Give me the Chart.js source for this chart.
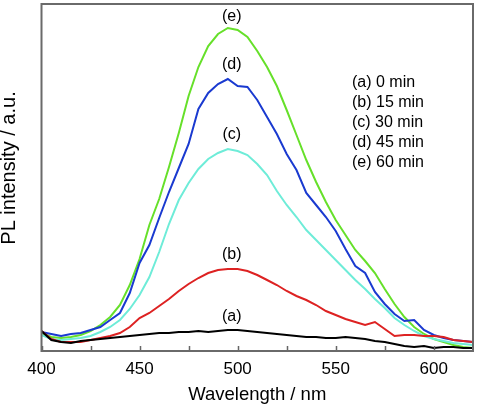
<!DOCTYPE html>
<html>
<head>
<meta charset="utf-8">
<script src="https://cdn.jsdelivr.net/npm/chart.js@4/dist/chart.umd.min.js"></script>
<style>
html,body{margin:0;padding:0;background:#fff;}
canvas{display:block;}
</style>
</head>
<body>
<canvas id="c" width="477" height="409"></canvas>
<script>
// ---- data ----
const wavelengths = [400,405,410,415,420,425,430,435,440,445,450,455,460,465,470,475,480,485,490,495,500,505,510,515,520,525,530,535,540,545,550,555,560,565,570,575,580,585,590,595,600,605,610,615,620];
const seriesA = [20,11,9,8,10, 11,12,13,14,15, 16,17,18,18,19, 19,20,19,20,21, 21,20,19,18,17, 16,15,14,14,13, 13,14,13,12,10, 9,7,5,4,5, 3,4,4,3,3];
const seriesB = [20,12,9,9,9, 11,13,15,18,24, 33,38,45,52,60, 67,73,78,81,82, 82,80,76,71,66, 60,55,51,46,40, 36,32,29,26,29, 22,15,16,16,15, 15,14,11,10,9];
const seriesC = [16,12,11,12,13, 15,19,24,31,42, 56,74,99,127,151, 168,182,192,198,202, 200,196,187,176,160, 146,134,121,111,101, 91,81,71,62,52, 43,33,26,20,15, 12,10,8,7,6];
const seriesD = [19,17,15,17,18, 21,24,31,38,58, 88,106,133,159,183, 207,242,258,267,272, 265,264,251,234,217, 197,181,158,146,134, 120,102,85,78,59, 47,37,30,31,21, 16,13,11,10,9];
const seriesE = [18,14,13,14,16, 20,26,34,46,66, 92,126,152,184,218, 255,284,305,317,323, 321,314,300,284,265, 241,216,191,169,149, 131,116,101,90,78, 62,47,34,24,17, 12,9,6,4,3];
const xTickValues = [400,450,500,550,600];
const xMinorTickValues = [400,425,450,475,500,525,550,575,600];
const curveLabels = ['(a)','(b)','(c)','(d)','(e)'];
const curveLabelY = [34,96,216,286,334];
const curveLabelX = 497;
const legendLines = ['(a) 0 min','(b) 15 min','(c) 30 min','(d) 45 min','(e) 60 min'];
const legendX = 558.3;
const legendY = [268,248,228,208,188];
const xTitle = 'Wavelength / nm';
const yTitle = 'PL intensity / a.u.';

const FONT = "'Liberation Sans', Arial, Helvetica, sans-serif";
Chart.defaults.font.family = FONT;
Chart.defaults.color = '#000';

function mk(data, color) {
  return {
    data: wavelengths.map((w, i) => ({x: w, y: data[i]})),
    borderColor: color, borderWidth: 2, pointRadius: 0, tension: 0, fill: false
  };
}

const decor = {
  id: 'decor',
  afterDatasetsDraw(chart) {
    const {ctx, chartArea: a, scales: {x, y}} = chart;
    ctx.save();
    // minor/major ticks (inward)
    ctx.strokeStyle = '#666';
    ctx.lineWidth = 1.5;
    ctx.beginPath();
    xMinorTickValues.forEach(v => {
      const px = Math.round(x.getPixelForValue(v)) + 0.5;
      ctx.moveTo(px, a.bottom);
      ctx.lineTo(px, a.bottom - 5);
    });
    ctx.stroke();
    // frame
    ctx.lineWidth = 2;
    ctx.strokeStyle = '#6a6a6a';
    ctx.strokeRect(a.left, a.top, a.right - a.left, a.bottom - a.top);
    // curve labels
    ctx.fillStyle = '#000';
    ctx.font = '16px ' + FONT;
    ctx.textAlign = 'center';
    ctx.textBaseline = 'middle';
    curveLabels.forEach((t, i) => {
      ctx.fillText(t, x.getPixelForValue(curveLabelX), y.getPixelForValue(curveLabelY[i]));
    });
    // legend text
    ctx.textAlign = 'left';
    legendLines.forEach((t, i) => {
      ctx.fillText(t, x.getPixelForValue(legendX), y.getPixelForValue(legendY[i]));
    });
    // y title
    ctx.save();
    ctx.font = '20px ' + FONT;
    ctx.translate(9, (a.top + a.bottom) / 2 - 9.5);
    ctx.rotate(-Math.PI / 2);
    ctx.textAlign = 'center';
    ctx.textBaseline = 'middle';
    ctx.fillText(yTitle, 0, 0);
    ctx.restore();
    ctx.restore();
  }
};

new Chart(document.getElementById('c'), {
  type: 'line',
  data: {
    datasets: [
      mk(seriesA, '#000000'),
      mk(seriesB, '#dd2222'),
      mk(seriesC, '#6eecd8'),
      mk(seriesD, '#1a3ad0'),
      mk(seriesE, '#66e02a')
    ]
  },
  options: {
    responsive: false,
    animation: false,
    devicePixelRatio: 1,
    layout: {padding: {left: 0, right: 4, top: 4, bottom: 0}},
    plugins: {legend: {display: false}, tooltip: {enabled: false}},
    scales: {
      x: {
        type: 'linear', min: 400, max: 620,
        afterBuildTicks: s => { s.ticks = xTickValues.map(v => ({value: v})); },
        afterFit: s => { s.height = 58; },
        ticks: {autoSkip: false, maxRotation: 0, padding: 8, font: {size: 17}, color: '#000'},
        grid: {display: false, drawTicks: false},
        border: {display: false},
        title: {display: true, text: xTitle, font: {size: 18.5}, color: '#000', padding: {top: 0, bottom: 3}}
      },
      y: {
        min: 0, max: 347,
        afterFit: s => { s.width = 41.5; },
        ticks: {display: false},
        grid: {display: false, drawTicks: false},
        border: {display: false}
      }
    }
  },
  plugins: [decor]
});
</script>
</body>
</html>
